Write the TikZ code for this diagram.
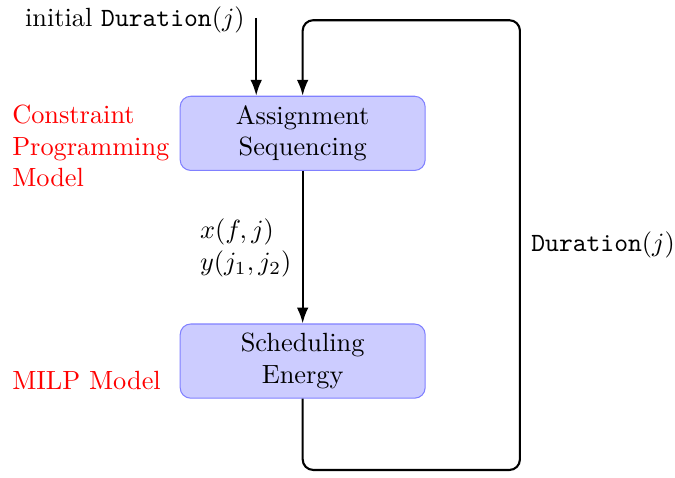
\documentclass[tikz,border=0pt]{standalone}
\usetikzlibrary{shapes,arrows,arrows.meta,positioning}

\begin{document}
\begin{tikzpicture}[model/.style={rectangle, rounded corners, draw=blue!50, fill=blue!20, align=center, minimum width=3.27cm, minimum height=0.99cm},
                    tag/.style={red, align=left, anchor=west},
                    flow/.style={thick, -{Latex[length=6pt,width=4.4pt]}}]
                \useasboundingbox (0,0) rectangle (9.01,6.38);
                \node[model] (assign) at (4.04,4.60) {Assignment\\Sequencing};
                \node[model] (sched) at (4.04,1.56) {Scheduling\\Energy};
                \node[tag] (cp) at (0.04,4.43) {Constraint\\Programming\\Model};
                \node[tag] (milp) at (0.04,1.30) {MILP Model};
                \node (initlabel) at (1.80,6.12) {initial \texttt{Duration}$(j)$};
                \node[align=left] (vars) at (3.28,3.07) {$x(f,j)$\\$y(j_1,j_2)$};
                \node (durlabel) at (8.05,3.11) {\texttt{Duration}$(j)$};
                \coordinate (init) at (3.42,6.14);
                \coordinate (loopA) at (4.04,0.107);
                \coordinate (loopB) at (6.94,0.107);
                \coordinate (loopC) at (6.94,6.11);
                \coordinate (loopD) at (4.04,6.11);
                \draw[flow] (init) -- (init |- assign.north);
                \draw[flow] (assign) -- (sched);
                \draw[flow, rounded corners] (sched.south) -- (loopA) -- (loopB) -- (loopC) -- (loopD) -- (assign.north);
            \end{tikzpicture}
\end{document}
